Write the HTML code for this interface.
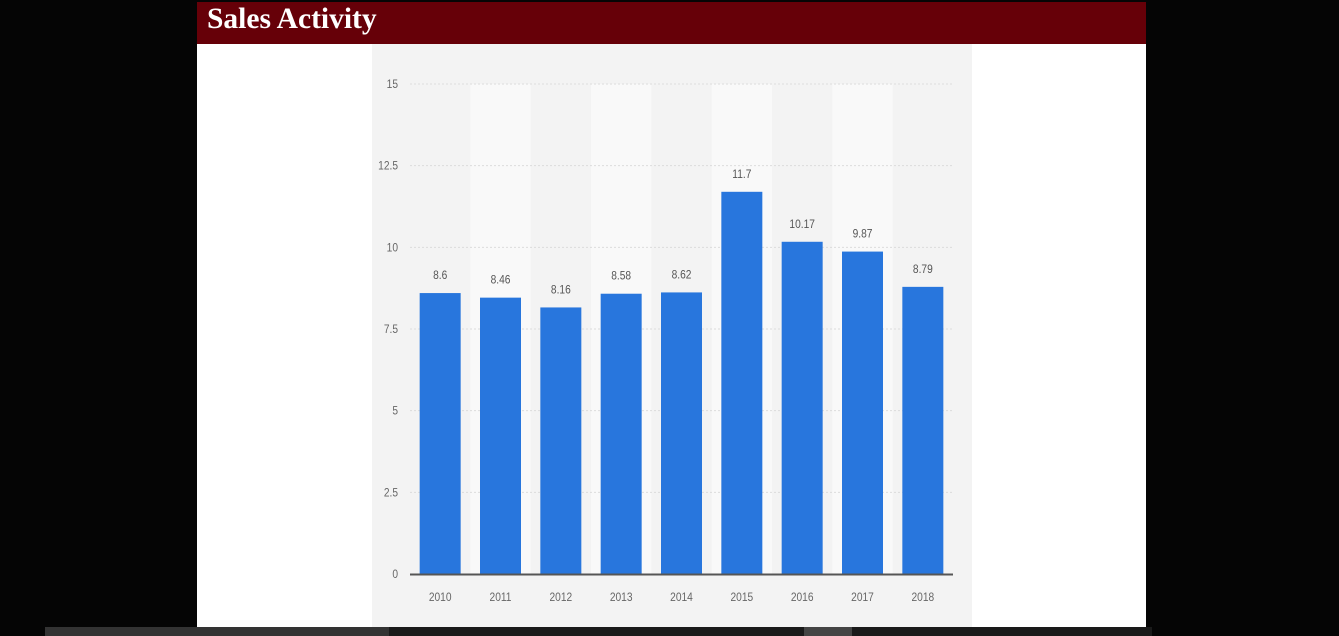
<!DOCTYPE html>
<html><head><meta charset="utf-8"><style>
html,body{margin:0;padding:0;width:1339px;height:636px;overflow:hidden;background:#050505;font-family:"Liberation Sans",sans-serif;}
#panel{position:absolute;left:197px;top:44px;width:949px;height:583px;background:#fff;}
#title{position:absolute;left:197px;top:2px;width:949px;height:42px;background:#660008;}
#title span{position:absolute;left:10px;top:0px;font-family:"Liberation Serif",serif;font-weight:bold;font-size:29.5px;color:#fff;line-height:34px;}
svg{position:absolute;left:0;top:0;}
.strip{position:absolute;top:627px;height:9px;}
</style></head><body>
<div id="panel"></div>
<div id="title"><span>Sales Activity</span></div>
<div class="strip" style="left:45px;width:344px;background:#333"></div>
<div class="strip" style="left:389px;width:415px;background:#1a1a1a"></div>
<div class="strip" style="left:804px;width:48px;background:#444"></div>
<div class="strip" style="left:852px;width:300px;background:#1a1a1a"></div>
<svg id="chart" width="1339" height="636"></svg>
<script>
const categories=["2010","2011","2012","2013","2014","2015","2016","2017","2018"];
const values=[8.6,8.46,8.16,8.58,8.62,11.7,10.17,9.87,8.79];
const valueLabels=["8.6","8.46","8.16","8.58","8.62","11.7","10.17","9.87","8.79"];
const yTicks=[0,2.5,5,7.5,10,12.5,15];
const yTickLabels=["0","2.5","5","7.5","10","12.5","15"];
const NS="http://www.w3.org/2000/svg";
const svg=document.getElementById('chart');
const X0=410,X1=953,Y0=574,Y1=84,YMAX=15;
const step=(X1-X0)/categories.length;
function y(v){return Y0-(v/YMAX)*(Y0-Y1);}
function xc(i){return X0+step*(i+0.5);}
function mk(t,a){const e=document.createElementNS(NS,t);for(const k in a)e.setAttribute(k,a[k]);svg.appendChild(e);return e;}
const bg=mk('rect',{x:372,y:44,width:600,height:583,fill:'#f3f3f3'});


categories.forEach((c,i)=>{if(i%2===1){const b=mk('rect',{x:X0+step*i,y:Y1,width:step,height:Y0-Y1,fill:'#f9f9f9'});

}});
yTicks.forEach((t,i)=>{
 if(t>0){const g=mk('line',{x1:X0,x2:X1,y1:y(t),y2:y(t),stroke:'#dcdcdc','stroke-width':1,'stroke-dasharray':'2,2'});
 
 }
 const l=mk('text',{x:398/0.85,y:y(t)+4,'text-anchor':'end','font-size':12,fill:'#666',transform:'scale(0.85,1)'});
 l.textContent=yTickLabels[i];
 
 
});
categories.forEach((c,i)=>{
 const bw=41,cx=xc(i);
 const r=mk('rect',{x:cx-bw/2,y:y(values[i]),width:bw,height:Y0-y(values[i]),fill:'#2876dd'});
 
 
 const v=mk('text',{x:cx/0.85,y:y(values[i])-14,'text-anchor':'middle','font-size':12,fill:'#555',transform:'scale(0.85,1)'});
 v.textContent=valueLabels[i];
 
 
 const xl=mk('text',{x:cx/0.85,y:601,'text-anchor':'middle','font-size':12,fill:'#666',transform:'scale(0.85,1)'});
 xl.textContent=c;
 
 
});
const ax=mk('line',{x1:X0,x2:X1,y1:Y0+0.5,y2:Y0+0.5,stroke:'#555','stroke-width':2});


</script>
</body></html>
